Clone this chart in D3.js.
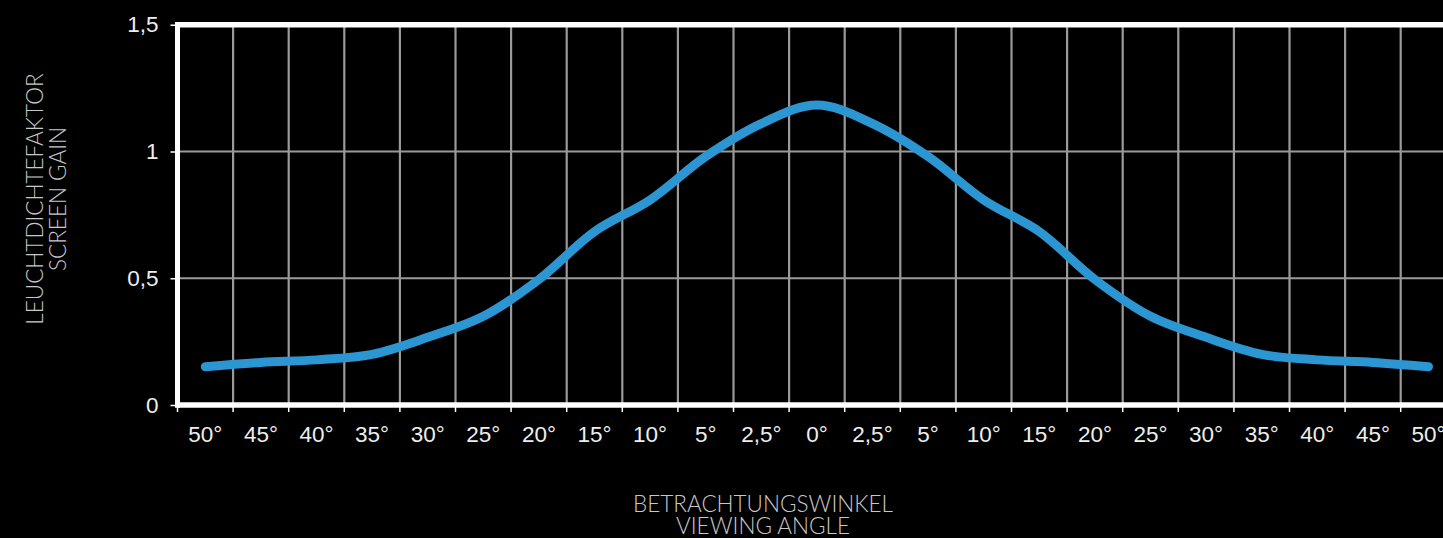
<!DOCTYPE html>
<html><head><meta charset="utf-8">
<script src="https://cdn.jsdelivr.net/npm/d3@7"></script>
<style>
html,body{margin:0;padding:0;background:#000;overflow:hidden}
svg{display:block}
</style></head>
<body>
<svg id="chart" width="1443" height="538"></svg>
<script>
const categories = ["50°","45°","40°","35°","30°","25°","20°","15°","10°","5°","2,5°","0°","2,5°","5°","10°","15°","20°","25°","30°","35°","40°","45°","50°"];
const gainValues = [0.151,0.168,0.178,0.2,0.267,0.35,0.495,0.684,0.809,0.98,1.11,1.183,1.11,0.98,0.809,0.684,0.495,0.35,0.267,0.2,0.178,0.168,0.151];
const yTicks = [0,0.5,1,1.5];
const yTickLabels = ["0","0,5","1","1,5"];
const yTitle = ["LEUCHTDICHTEFAKTOR","SCREEN GAIN"];
const xTitle = ["BETRACHTUNGSWINKEL","VIEWING ANGLE"];

(function(){
const svg = d3.select("#chart");
const pLeft = 177.5, bandW = 55.6;
const pRight = pLeft + bandW * categories.length;
const pTop = 24.75, pBottom = 405;

const x = d3.scaleBand().domain(d3.range(categories.length)).range([pLeft, pRight]).paddingInner(0).paddingOuter(0);
const y = d3.scaleLinear().domain([0,1.5]).range([pBottom, pTop]);

const g = svg.append("g");
g.selectAll("line.v").data(d3.range(1, categories.length)).join("line")
  .attr("x1", i => x(i)).attr("x2", i => x(i))
  .attr("y1", pTop).attr("y2", pBottom)
  .attr("stroke", "#9a9a9a").attr("stroke-width", 2.2);
g.selectAll("line.h").data([0.5,1]).join("line")
  .attr("x1", pLeft).attr("x2", pRight)
  .attr("y1", d => y(d)).attr("y2", d => y(d))
  .attr("stroke", "#9a9a9a").attr("stroke-width", 2.2);

const tickFont = "'Liberation Sans', Arial, sans-serif";
const yAxis = svg.append("g").attr("transform", `translate(${pLeft},0)`)
  .call(d3.axisLeft(y).tickValues(yTicks).tickFormat((d,i)=>yTickLabels[i]).tickSize(7).tickPadding(12));
yAxis.select(".domain").remove();
yAxis.selectAll(".tick line").attr("stroke","#fff").attr("stroke-width",1.5);
yAxis.selectAll(".tick text").attr("fill","#eee").style("font-family",tickFont).style("font-size","22.5px");

const xAxis = svg.append("g").attr("transform", `translate(0,${pBottom})`)
  .call(d3.axisBottom(x).tickFormat(i=>categories[i]).tickSize(0).tickPadding(21));
xAxis.select(".domain").remove();
xAxis.selectAll(".tick text").attr("fill","#eee").style("font-family",tickFont).style("font-size","22.5px");
svg.append("g").selectAll("line").data(d3.range(0, categories.length+1)).join("line")
  .attr("x1", i => i < categories.length ? x(i) : pRight).attr("x2", i => i < categories.length ? x(i) : pRight)
  .attr("y1", pBottom).attr("y2", pBottom + 7)
  .attr("stroke","#fff").attr("stroke-width",1.5);

svg.append("line").attr("x1", pLeft).attr("x2", pRight).attr("y1", pTop).attr("y2", pTop).attr("stroke","#fff").attr("stroke-width",5.5);
svg.append("line").attr("x1", pLeft).attr("x2", pRight).attr("y1", pBottom).attr("y2", pBottom).attr("stroke","#fff").attr("stroke-width",5.5);
svg.append("line").attr("x1", pLeft).attr("x2", pLeft).attr("y1", pTop-2.75).attr("y2", pBottom+2.75).attr("stroke","#fff").attr("stroke-width",5);

const line = d3.line()
  .x((d,i) => x(i) + x.bandwidth()/2)
  .y(d => y(d))
  .curve(d3.curveCatmullRom.alpha(0.5));
svg.append("path").datum(gainValues).attr("d", line)
  .attr("fill","none").attr("stroke","#2b96d2").attr("stroke-width",9)
  .attr("stroke-linecap","round").attr("stroke-linejoin","round");

const tFont = "Lato, sans-serif";
const yt = svg.append("text").attr("transform","translate(43,199) rotate(-90)")
  .attr("text-anchor","middle").attr("fill","#c8c8c8")
  .style("font-family", tFont).style("font-weight", 300).style("font-size","22.5px");
yTitle.forEach((t,i)=> yt.append("tspan").attr("x",0).attr("dy", i===0 ? 0 : 23).text(t));

const xt = svg.append("text").attr("x", 763).attr("y", 512)
  .attr("text-anchor","middle").attr("fill","#c8c8c8")
  .style("font-family", tFont).style("font-weight", 300).style("font-size","22.5px");
xTitle.forEach((t,i)=> xt.append("tspan").attr("x",763).attr("dy", i===0 ? 0 : 22).text(t));
})();
</script>
</body></html>
